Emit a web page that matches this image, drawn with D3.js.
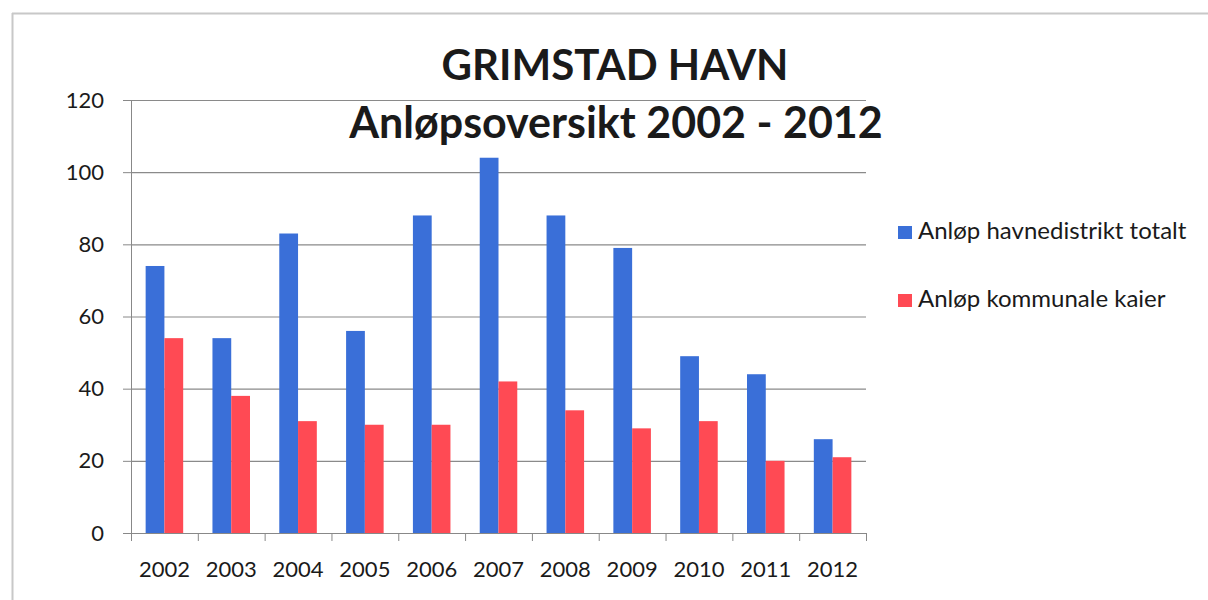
<!DOCTYPE html>
<html>
<head>
<meta charset="utf-8">
<script src="https://cdn.jsdelivr.net/npm/d3@7"></script>
<style>
  body { margin: 0; background: white; }
  svg text { font-family: Lato, 'Open Sans', sans-serif; fill: #1a1a1a; }
</style>
</head>
<body>
<div class="canvas"></div>
<script>
// data
const years = ["2002","2003","2004","2005","2006","2007","2008","2009","2010","2011","2012"];
const totalt = [74, 54, 83, 56, 88, 104, 88, 79, 49, 44, 26];
const kommunale = [54, 38, 31, 30, 30, 42, 34, 29, 31, 20, 21];
const seriesNames = ["Anløp havnedistrikt totalt", "Anløp kommunale kaier"];
const yTicks = [0, 20, 40, 60, 80, 100, 120];
const colors = ["#3a6fd8", "#ff4a54"];

const margin = {top: 100, left: 131, right: 342, bottom: 67};
const width = 1208, height = 600;
const graphWidth = width - margin.left - margin.right;
const graphHeight = height - margin.top - margin.bottom;

const svg = d3.select('.canvas')
  .append('svg')
    .attr('width', width)
    .attr('height', height);

// outer frame
svg.append("line").attr("x1", 12).attr("x2", 1208).attr("y1", 13.5).attr("y2", 13.5)
  .attr("stroke", "#c8c8c8").attr("stroke-width", 2);
svg.append("line").attr("x1", 12.5).attr("x2", 12.5).attr("y1", 13).attr("y2", 600)
  .attr("stroke", "#c8c8c8").attr("stroke-width", 2);

const g = svg.append('g')
  .attr('transform', `translate(${margin.left}, ${margin.top})`);

const x = d3.scaleBand().domain(years).range([0, graphWidth]).paddingInner(0).paddingOuter(0);
const x1 = d3.scaleBand().domain([0, 1]).range([0, x.bandwidth()]).paddingInner(0).paddingOuter(0.78);
const y = d3.scaleLinear().domain([0, 120]).range([graphHeight, 0]);

// gridlines + y axis
const yAxis = g.append("g")
  .call(d3.axisLeft(y).tickValues(yTicks).tickSize(8).tickPadding(19))
yAxis.select(".domain").attr("stroke", "#888");
yAxis.selectAll(".tick line").attr("stroke", "#888");
yAxis.selectAll("text").style("font-size", "22px").style("fill", "#1a1a1a");

g.append("g")
  .selectAll("line")
  .data(yTicks.filter(d => d > 0))
  .enter()
  .append("line")
    .attr("x1", 0).attr("x2", graphWidth)
    .attr("y1", d => y(d) + 0.5).attr("y2", d => y(d) + 0.5)
    .attr("stroke", "#8a8a8a").attr("stroke-width", 1.2);

// bars
const groups = g.selectAll(".yr")
  .data(years)
  .enter()
  .append("g")
    .attr("transform", d => `translate(${x(d)},0)`);

[totalt, kommunale].forEach((vals, si) => {
  groups.append("rect")
    .attr("x", x1(si))
    .attr("width", x1.bandwidth())
    .attr("y", (d, i) => y(vals[i]))
    .attr("height", (d, i) => graphHeight - y(vals[i]))
    .attr("fill", colors[si]);
});

// x axis
const xAxis = g.append("g")
  .attr("transform", `translate(0, ${graphHeight})`)
  .call(d3.axisBottom(x).tickSize(0).tickPadding(28));
xAxis.select(".domain").attr("stroke", "#888");
xAxis.selectAll("text").style("font-size", "22px").style("fill", "#1a1a1a");
xAxis.append("g")
  .selectAll("line")
  .data(years.concat(["end"]))
  .enter()
  .append("line")
    .attr("x1", (d, i) => i * x.bandwidth() + 0.5)
    .attr("x2", (d, i) => i * x.bandwidth() + 0.5)
    .attr("y1", 0).attr("y2", 8)
    .attr("stroke", "#888");

// title
svg.append("text")
  .attr("x", 615).attr("y", 80)
  .attr("text-anchor", "middle")
  .style("font-size", "42px").style("font-weight", "bold")
  .text("GRIMSTAD HAVN");
svg.append("text")
  .attr("x", 616).attr("y", 138)
  .attr("text-anchor", "middle")
  .style("font-size", "43px").style("font-weight", "bold")
  .text("Anløpsoversikt 2002 - 2012");

// legend
const legend = svg.append("g").attr("transform", "translate(898, 226)");
seriesNames.forEach((name, i) => {
  legend.append("rect")
    .attr("x", 0).attr("y", i * 68)
    .attr("width", 14).attr("height", 13)
    .attr("fill", colors[i]);
  legend.append("text")
    .attr("x", 20).attr("y", i * 68 + 13)
    .style("font-size", "24px")
    .text(name);
});
</script>
</body>
</html>
